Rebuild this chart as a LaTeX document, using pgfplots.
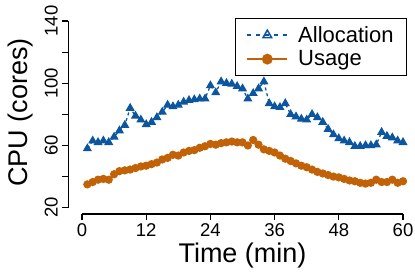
\documentclass[border=0pt]{standalone}
\usepackage{pgfplots}
\pgfplotsset{compat=1.18}
\usepackage{pgfplotstable}
\usepackage{fontspec}
\setmainfont{Liberation Sans}
\definecolor{allocC}{RGB}{12,86,160}
\definecolor{usageC}{RGB}{193,98,6}
\pgfplotstableread{
t v
1 58
2 63
3 62
4 63
5 62
6 65.5
7 69.5
8 73
9 84
10 79
11 76.5
12 73.5
13 75
14 78
15 81.5
16 86
17 85
18 86
19 88
20 89
21 89.5
22 90
23 90
24 98.5
25 94
26 101
27 100
28 99.5
29 98
30 96.5
31 90
32 93.5
33 96.5
34 101
35 87
36 85
37 84.5
38 87
39 80
40 78.5
41 77
42 76.5
43 80
44 78
45 75
46 70.5
47 67
48 64.5
49 63
50 62
51 59.5
52 59.5
53 60
54 60
55 60.5
56 68.5
57 66
58 65
59 63
60 62
}\alloc
\pgfplotstableread{
t v
1 35
2 36.5
3 38
4 38.5
5 38
6 41.5
7 43.5
8 44
9 44.5
10 45.5
11 46.5
12 47
13 48
14 49
15 51
16 52
17 54
18 53.5
19 55.5
20 56.5
21 57
22 58.5
23 59.5
24 61
25 60.5
26 61.5
27 62
28 62.5
29 62
30 62
31 60
32 63.5
33 60.5
34 57.5
35 56.5
36 55.5
37 53.5
38 51.5
39 50
40 48.5
41 47
42 46
43 44.5
44 43
45 42
46 41
47 40
48 39.5
49 38.5
50 37.5
51 37
52 36
53 35.5
54 36
55 38
56 36.5
57 36.5
58 38
59 36
60 37
}\usage
\begin{document}
\begin{tikzpicture}
\begin{axis}[
  scale only axis,
  width=321pt, height=186.7pt,
  xmin=0, xmax=60, ymin=20, ymax=140,
  axis lines=left,
  axis line style={-, line width=1.1pt},
  axis x line shift=6.3pt,
  axis y line shift=13.7pt,
  clip=false,
  xtick={0,12,...,60},
  ytick={20,40,...,140},
  yticklabels={20,,60,,100,,140},
  tick align=outside,
  major tick length=6pt,
  tick style={line width=1.1pt, black},
  /pgf/number format/assume math mode=true,
  tick label style={font=\fontsize{18.5}{20}\selectfont},
  yticklabel style={rotate=90, anchor=south, yshift=1pt},
  xlabel={Time (min)},
  ylabel={CPU (cores)},
  label style={font=\fontsize{27}{30}\selectfont},
  xlabel style={at={(ticklabel cs:0.5)}, yshift=1pt},
  ylabel style={at={(ticklabel cs:0.51)}, yshift=5pt},
  legend style={at={(axis description cs:1.0125,1.016)}, anchor=north east,
    font=\fontsize{22}{24}\selectfont, draw=black, fill=white, line width=0.8pt,
    inner xsep=11pt, inner ysep=6pt, row sep=3pt, column sep=8pt,
    nodes={inner sep=2pt}},
  legend cell align=left,
  legend image code/.code={\draw[mark repeat=2,mark phase=2,#1] plot coordinates {(0pt,0pt)(20pt,0pt)(40pt,0pt)};},
]
\addplot[allocC, dashed, line width=1.3pt, mark=triangle*, mark size=4pt, mark options={solid, fill=allocC}, forget plot] table[x=t,y=v]{\alloc};
\addplot[usageC, solid, line width=1.6pt, mark=*, mark size=3.3pt, mark options={solid, fill=usageC}, forget plot] table[x=t,y=v]{\usage};
\addlegendimage{allocC, line width=1.4pt, dash pattern=on 4pt off 5pt, mark=triangle, mark size=5pt, mark options={solid, fill=white, line width=1.5pt}}
\addlegendentry{Allocation}
\addlegendimage{usageC, solid, line width=1.8pt, mark=*, mark size=4.5pt, mark options={solid, fill=usageC}}
\addlegendentry{Usage}
\end{axis}
\pgfresetboundingbox
\path[use as bounding box] ([shift={(-82pt,-69.3pt)}]current axis.south west) rectangle ([shift={(12pt,21pt)}]current axis.north east);
\end{tikzpicture}
\end{document}
